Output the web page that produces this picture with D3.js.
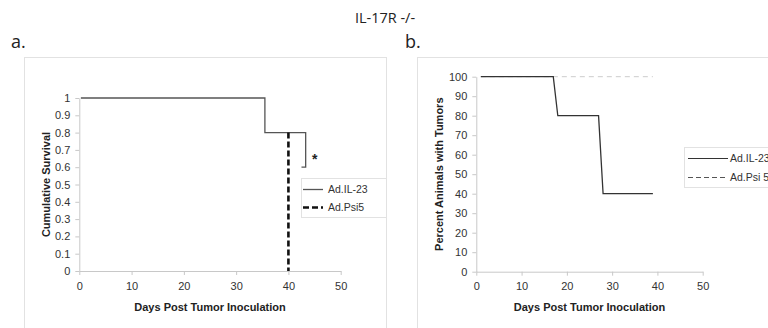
<!DOCTYPE html>
<html>
<head>
<meta charset="utf-8">
<script src="https://cdn.jsdelivr.net/npm/d3@7"></script>
<style>
  body { margin: 0; background: #fff; }
  svg { display: block; }
  .tick text { font-family: "Liberation Sans", Arial, sans-serif; font-size: 11px; fill: #333; }
  .axis path, .axis line { stroke: #c8c8c8; }
  .ttl { font-family: "Liberation Sans", Arial, sans-serif; font-size: 11px; font-weight: bold; fill: #222; }
  .leg { font-family: "Liberation Sans", Arial, sans-serif; font-size: 10.5px; fill: #333; }
  .big { font-family: "Open Sans", sans-serif; fill: #222; }
</style>
</head>
<body>
<script>
// panel a - survival
let aIL23Days = [0.3, 35.5, 35.5, 43.3, 43.3, 42.5]
let aIL23Surv = [1, 1, 0.8, 0.8, 0.6, 0.6]
let aPsi5Days = [40, 40]
let aPsi5Surv = [0.8, 0]
let aYTicks = [0, 0.1, 0.2, 0.3, 0.4, 0.5, 0.6, 0.7, 0.8, 0.9, 1]

// panel b - tumor incidence
let bIL23Days = [1, 17, 18, 27, 28, 39]
let bIL23Pct = [100, 100, 80, 80, 40, 40]
let bPsi5Days = [1, 39]
let bPsi5Pct = [100, 100]
let bYTicks = [0, 10, 20, 30, 40, 50, 60, 70, 80, 90, 100]

let xTicks = [0, 10, 20, 30, 40, 50]
let legendNames = ["Ad.IL-23", "Ad.Psi5"]
let legendNamesB = ["Ad.IL-23", "Ad.Psi 5"]

let w = 768
let h = 328

let svg = d3.select("body").append("svg")
  .attr("width", w)
  .attr("height", h)

svg.append("rect").attr("width", w).attr("height", h).attr("fill", "#fff")

svg.append("text").attr("class", "big")
  .attr("x", 385).attr("y", 23)
  .attr("text-anchor", "middle")
  .style("font-size", "14.5px")
  .text("IL-17R -/-")

svg.append("text").attr("class", "big").attr("x", 11).attr("y", 48).style("font-size", "18px").text("a.")
svg.append("text").attr("class", "big").attr("x", 405).attr("y", 48).style("font-size", "18px").text("b.")

// frames
svg.append("rect").attr("x", 24.5).attr("y", 57.5).attr("width", 362).attr("height", 300)
  .attr("fill", "none").attr("stroke", "#e2e2e2")
svg.append("rect").attr("x", 417.5).attr("y", 57.5).attr("width", 400).attr("height", 300)
  .attr("fill", "none").attr("stroke", "#e2e2e2")

let drawAxes = (g, xScale, yScale, yTicks, yFmt) => {
  g.append("g").attr("class", "axis")
    .attr("transform", "translate(0," + yScale(0) + ")")
    .call(d3.axisBottom(xScale).tickValues(xTicks).tickSize(4).tickPadding(7).tickSizeOuter(0))
  g.append("g").attr("class", "axis")
    .attr("transform", "translate(" + xScale(0) + ",0)")
    .call(d3.axisLeft(yScale).tickValues(yTicks).tickFormat(yFmt).tickSize(4).tickPadding(5).tickSizeOuter(0))
}

// ---- panel a
let xA = d3.scaleLinear().domain([0, 50]).range([79.3, 340.7])
let yA = d3.scaleLinear().domain([0, 1]).range([271, 98])
let gA = svg.append("g")
drawAxes(gA, xA, yA, aYTicks, d3.format("~g"))

let line = d3.line()

gA.append("path")
  .attr("d", line(aIL23Days.map((d, i) => [xA(d), yA(aIL23Surv[i])])))
  .attr("fill", "none").attr("stroke", "#555").attr("stroke-width", 1.3)
gA.append("path")
  .attr("d", line(aPsi5Days.map((d, i) => [xA(d), yA(aPsi5Surv[i])])))
  .attr("fill", "none").attr("stroke", "#111").attr("stroke-width", 2.6).attr("stroke-dasharray", "6,3")

gA.append("text").attr("x", 312).attr("y", 164)
  .style("font-family", "Liberation Sans, Arial, sans-serif").style("font-size", "14px").style("font-weight", "bold")
  .attr("fill", "#222").text("*")

gA.append("text").attr("class", "ttl")
  .attr("x", xA(25)).attr("y", 311).attr("text-anchor", "middle")
  .text("Days Post Tumor Inoculation")
gA.append("text").attr("class", "ttl")
  .attr("transform", "translate(50," + yA(0.5) + ") rotate(-90)")
  .attr("text-anchor", "middle")
  .text("Cumulative Survival")

let legA = gA.append("g").attr("id", "legend-a")
legA.append("rect").attr("x", 301.5).attr("y", 178.5).attr("width", 85).attr("height", 39)
  .attr("fill", "#fff").attr("stroke", "#e2e2e2")
legA.append("line").attr("x1", 303).attr("x2", 323).attr("y1", 189.5).attr("y2", 189.5)
  .attr("stroke", "#555").attr("stroke-width", 1.3)
legA.append("line").attr("x1", 303).attr("x2", 323).attr("y1", 207.5).attr("y2", 207.5)
  .attr("stroke", "#111").attr("stroke-width", 2.6).attr("stroke-dasharray", "6,3")
legendNames.forEach((n, i) => {
  legA.append("text").attr("class", "leg").attr("x", 328).attr("y", 193 + i * 18.3).text(n)
})

// ---- panel b
let xB = d3.scaleLinear().domain([0, 50]).range([476.3, 702.7])
let yB = d3.scaleLinear().domain([0, 100]).range([271.7, 76.7])
let gB = svg.append("g")
drawAxes(gB, xB, yB, bYTicks, d3.format("d"))

gB.append("path")
  .attr("d", line(bPsi5Days.map((d, i) => [xB(d), yB(bPsi5Pct[i])])))
  .attr("fill", "none").attr("stroke", "#ccc").attr("stroke-width", 1).attr("stroke-dasharray", "5,4")
gB.append("path")
  .attr("d", line(bIL23Days.map((d, i) => [xB(d), yB(bIL23Pct[i])])))
  .attr("fill", "none").attr("stroke", "#333").attr("stroke-width", 1.3)

gB.append("text").attr("class", "ttl")
  .attr("x", xB(25)).attr("y", 311).attr("text-anchor", "middle")
  .text("Days Post Tumor Inoculation")
gB.append("text").attr("class", "ttl")
  .attr("transform", "translate(443," + yB(50) + ") rotate(-90)")
  .attr("text-anchor", "middle")
  .text("Percent Animals with Tumors")

let legB = gB.append("g").attr("id", "legend-b")
legB.append("rect").attr("x", 684.5).attr("y", 147.5).attr("width", 100).attr("height", 40)
  .attr("fill", "#fff").attr("stroke", "#e2e2e2")
legB.append("line").attr("x1", 688).attr("x2", 728).attr("y1", 158.5).attr("y2", 158.5)
  .attr("stroke", "#333").attr("stroke-width", 1.2)
legB.append("line").attr("x1", 688).attr("x2", 728).attr("y1", 177.5).attr("y2", 177.5)
  .attr("stroke", "#555").attr("stroke-width", 1).attr("stroke-dasharray", "5,3")
legendNamesB.forEach((n, i) => {
  legB.append("text").attr("class", "leg").attr("x", 730).attr("y", 162 + i * 19).text(n)
})
</script>
</body>
</html>
